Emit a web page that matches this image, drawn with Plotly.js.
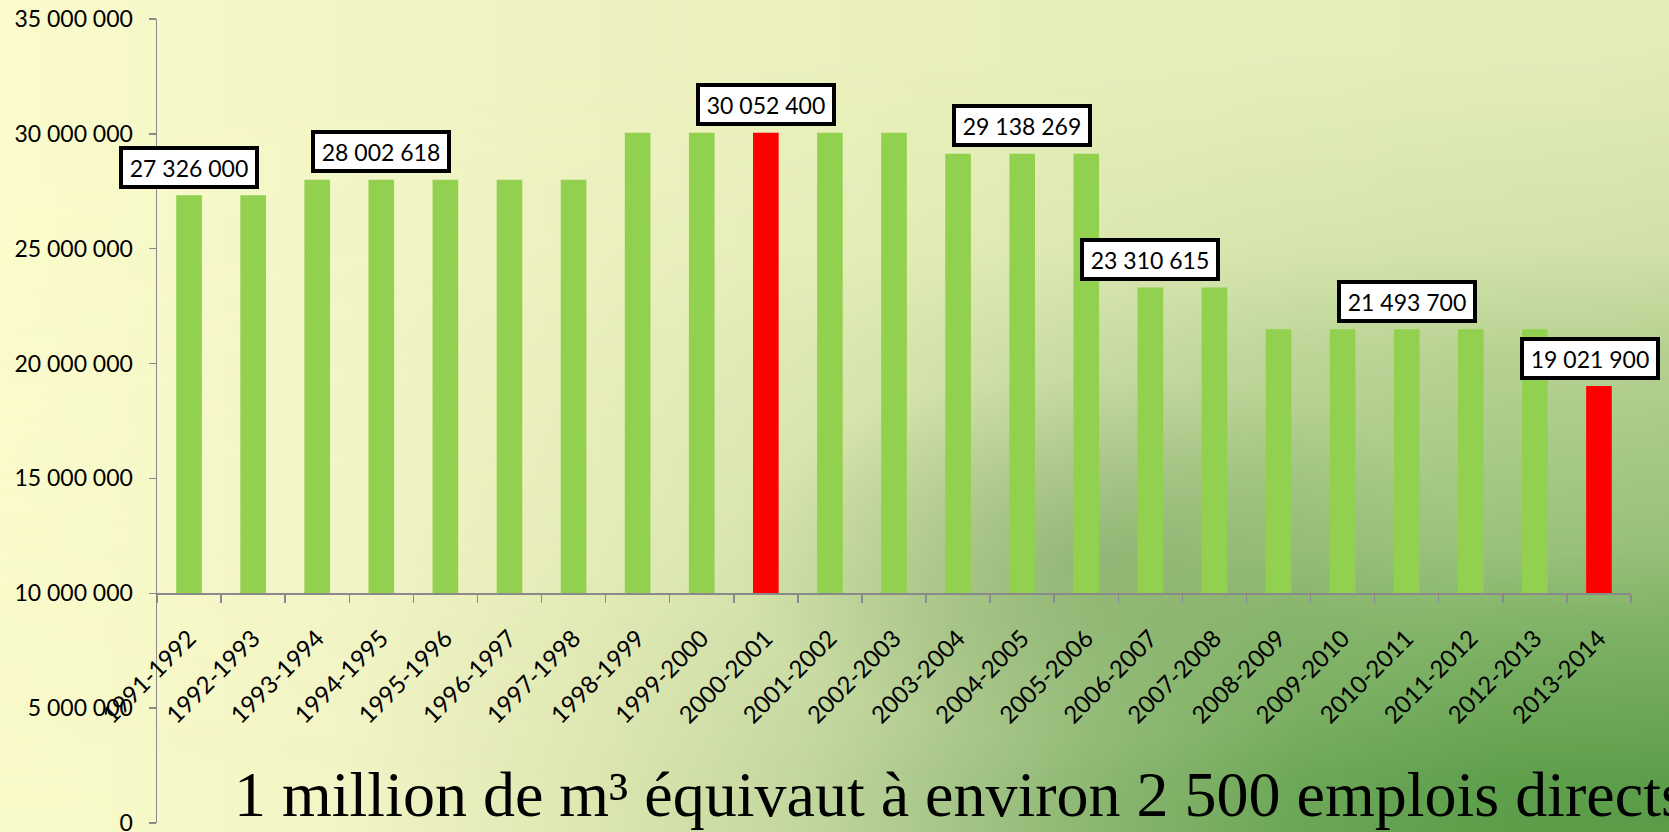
<!DOCTYPE html>
<html>
<head>
<meta charset="utf-8">
<script src="https://cdn.plot.ly/plotly-3.0.1.min.js"></script>
<style>
html,body{margin:0;padding:0;width:1669px;height:832px;overflow:hidden;}
body{position:relative;}
#bgBase,#bgTop,#bgSpot{position:absolute;left:0;top:0;width:1669px;height:832px;}
#bgBase{
  background: linear-gradient(to right, #fafbca 0%, #f3f5c6 20%, #dce6b0 36%, #c2d79e 48%, #a6c588 57%, #8ab670 66%, #6aa656 78%, #5c9e4a 90%, #5a9c48 100%);
}
#bgTop{
  background: linear-gradient(to right, #fbfbcb 0%, #f3f5c5 20%, #eef2c0 36%, #e9efbb 60%, #e4ecb8 96%, #e3ebb6 100%);
  -webkit-mask-image: linear-gradient(to bottom, rgba(0,0,0,1) 0%, rgba(0,0,0,1) 6%, rgba(0,0,0,0.87) 30%, rgba(0,0,0,0.67) 42%, rgba(0,0,0,0.45) 66%, rgba(0,0,0,0.28) 75%, rgba(0,0,0,0.02) 94%, rgba(0,0,0,0) 100%);
  mask-image: linear-gradient(to bottom, rgba(0,0,0,1) 0%, rgba(0,0,0,1) 6%, rgba(0,0,0,0.87) 30%, rgba(0,0,0,0.67) 42%, rgba(0,0,0,0.45) 66%, rgba(0,0,0,0.28) 75%, rgba(0,0,0,0.02) 94%, rgba(0,0,0,0) 100%);
}
#bgSpot{
  background: radial-gradient(ellipse 22% 22% at 66% 67%, rgba(95,145,75,0.4) 0%, rgba(95,145,75,0.2) 50%, rgba(95,145,75,0) 100%);
}
#chart{position:relative;width:1669px;height:832px;}
</style>
</head>
<body>
<div id="bgBase"></div>
<div id="bgTop"></div>
<div id="bgSpot"></div>
<div id="chart"></div>
<script>
const categories = ['1991-1992','1992-1993','1993-1994','1994-1995','1995-1996','1996-1997','1997-1998','1998-1999','1999-2000','2000-2001','2001-2002','2002-2003','2003-2004','2004-2005','2005-2006','2006-2007','2007-2008','2008-2009','2009-2010','2010-2011','2011-2012','2012-2013','2013-2014'];
const volumes = [27326000,27326000,28002618,28002618,28002618,28002618,28002618,30052400,30052400,30052400,30052400,30052400,29138269,29138269,29138269,23310615,23310615,21493700,21493700,21493700,21493700,21493700,19021900];
const highlighted = ['2000-2001','2013-2014'];
const labelledCategories = ['1991-1992','1994-1995','2000-2001','2004-2005','2006-2007','2010-2011','2013-2014'];
const axisBase = 10000000;
const yTickValues = [0,5000000,10000000,15000000,20000000,25000000,30000000,35000000];
const footnote = '1 million de m³ équivaut à environ 2 500 emplois directs';

function fmt(v){ return String(v).replace(/\B(?=(\d{3})+(?!\d))/g,' '); }

const sansFont = 'Lato, "Open Sans", sans-serif';

const trace = {
  type:'bar',
  x: categories,
  y: volumes.map(v => v - axisBase),
  base: axisBase,
  width: 0.4,
  marker:{color: categories.map(c => highlighted.includes(c) ? '#ff0000' : '#92d050')},
  hoverinfo:'skip'
};

const annotations = labelledCategories.map(c => {
  const i = categories.indexOf(c);
  return {
    x: c, y: volumes[i], xref:'x', yref:'y',
    text: fmt(volumes[i]),
    showarrow:false, xanchor:'center', yanchor:'bottom',
    yshift:6.5, xshift: (c === '2013-2014') ? -9 : 0,
    bgcolor:'#ffffff', bordercolor:'#000000', borderwidth:4, borderpad:2,
    width:128, height:31,
    font:{family:sansFont, size:23, color:'#000'}
  };
});

annotations.push({
  xref:'paper', yref:'paper',
  x:(232-157)/1474, y:(823-832)/804,
  xanchor:'left', yanchor:'bottom',
  text: footnote, showarrow:false,
  font:{family:'"Liberation Serif", "Times New Roman", serif', size:64, color:'#000'}
});

const layout = {
  width:1669, height:832,
  margin:{l:157, r:38, t:19, b:9, pad:0},
  paper_bgcolor:'rgba(0,0,0,0)',
  plot_bgcolor:'rgba(0,0,0,0)',
  separators:', ',
  showlegend:false,
  xaxis:{
    type:'category',
    anchor:'free', position: axisBase/35000000,
    showline:true, linecolor:'#8a8a8a', linewidth:1.5,
    ticks:'outside', ticklen:8, tickcolor:'#8a8a8a', tickwidth:1.5,
    tickson:'boundaries',
    tickangle:-45,
    ticklabelstandoff:20,
    tickfont:{family:sansFont, size:24, color:'#000'},
    showgrid:false, zeroline:false,
    range:[-0.5, categories.length-0.5]
  },
  yaxis:{
    range:[0,35000000],
    tickvals: yTickValues,
    tickformat:',d',
    showline:true, linecolor:'#8a8a8a', linewidth:1.5,
    ticks:'outside', ticklen:7, tickcolor:'#8a8a8a', tickwidth:1.5,
    ticklabelstandoff:11,
    ticklabeloverflow:'allow',
    tickfont:{family:sansFont, size:23, color:'#000'},
    showgrid:false, zeroline:false
  },
  annotations: annotations
};

Plotly.newPlot('chart',[trace],layout,{displayModeBar:false, staticPlot:true});
</script>
</body>
</html>
